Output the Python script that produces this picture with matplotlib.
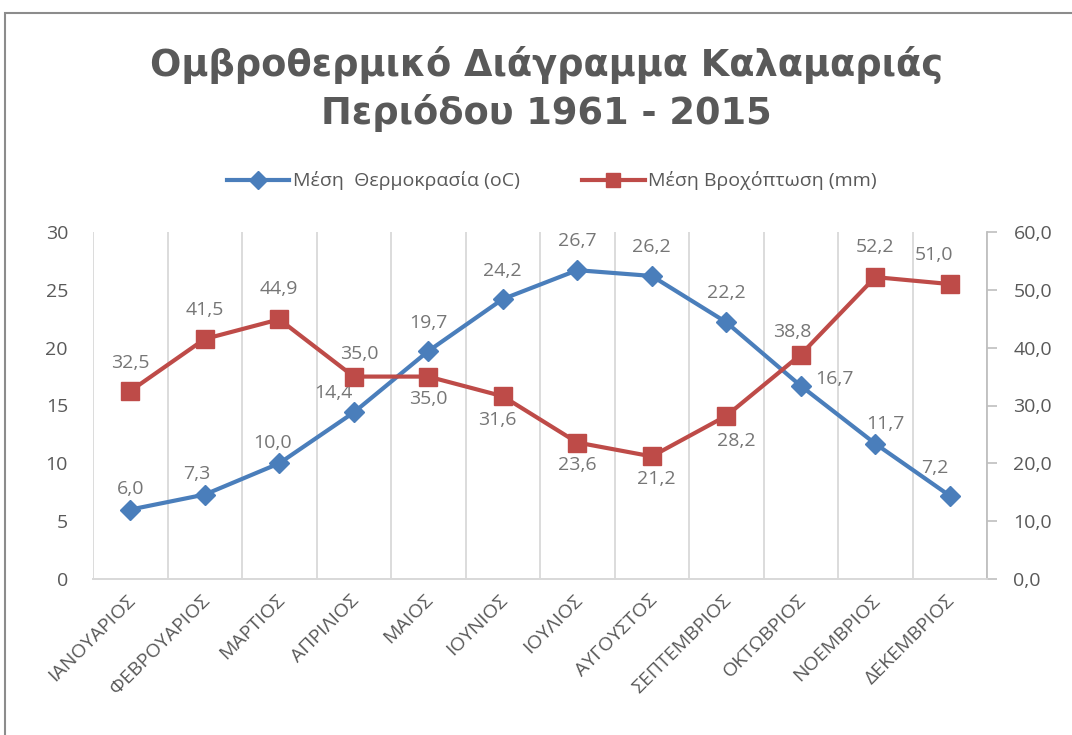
import matplotlib
matplotlib.use("Agg")
import matplotlib.pyplot as plt
import matplotlib.transforms as mtransforms
from matplotlib.patches import Rectangle

months = ["ΙΑΝΟΥΑΡΙΟΣ", "ΦΕΒΡΟΥΑΡΙΟΣ", "ΜΑΡΤΙΟΣ", "ΑΠΡΙΛΙΟΣ", "ΜΑΙΟΣ", "ΙΟΥΝΙΟΣ",
          "ΙΟΥΛΙΟΣ", "ΑΥΓΟΥΣΤΟΣ", "ΣΕΠΤΕΜΒΡΙΟΣ", "ΟΚΤΩΒΡΙΟΣ", "ΝΟΕΜΒΡΙΟΣ", "ΔΕΚΕΜΒΡΙΟΣ"]
temperature = [6.0, 7.3, 10.0, 14.4, 19.7, 24.2, 26.7, 26.2, 22.2, 16.7, 11.7, 7.2]
rainfall = [32.5, 41.5, 44.9, 35.0, 35.0, 31.6, 23.6, 21.2, 28.2, 38.8, 52.2, 51.0]
left_ticks = [0, 5, 10, 15, 20, 25, 30]
right_ticks = [0, 10, 20, 30, 40, 50, 60]
title = "Ομβροθερμικό Διάγραμμα Καλαμαριάς\nΠεριόδου 1961 - 2015"
temp_name = "Μέση  Θερμοκρασία (oC)"
rain_name = "Μέση Βροχόπτωση (mm)"

# label offsets (points) - style only
temp_off = [(0, 15), (-6, 15), (-5, 15), (-15, 14), (0, 20), (0, 20), (0, 21), (0, 21), (0, 21), (24, 5), (7, 14), (-11, 20)]
rain_off = [(0, 20), (0, 21), (0, 22), (4, 16), (0, -16), (-4, -17), (0, -16), (3, -16), (7, -18), (-6, 16), (0, 22), (-11, 21)]

FONT = "Open Sans"
plt.rcParams["font.family"] = [FONT, "DejaVu Sans"]
TXT = "#595959"
LBL = "#767676"
BLUE = "#4a7ebb"
RED = "#be4b48"

fig = plt.figure(figsize=(10.72, 7.35), dpi=100)
fig.patches.append(Rectangle((5 / 1072, -0.1), 1.2, (735 - 13) / 735 + 0.1, transform=fig.transFigure,
                             fill=False, edgecolor="#8c8c8c", linewidth=1.5))

ax = fig.add_axes([93 / 1072, (735 - 579) / 735, (987 - 93) / 1072, (579 - 232) / 735])
ax2 = ax.twinx()

x = list(range(len(months)))
l1, = ax.plot(x, temperature, color=BLUE, lw=3, marker="D", ms=10.5, zorder=3, label=temp_name)
l2, = ax2.plot(x, rainfall, color=RED, lw=3, marker="s", ms=12.5, zorder=3, label=rain_name)

for i, v in enumerate(temperature):
    ax.annotate(f"{v:.1f}".replace(".", ","), (i, v), xytext=temp_off[i], textcoords="offset points",
                ha="center", va="center", fontsize=14, color=LBL)
for i, v in enumerate(rainfall):
    ax2.annotate(f"{v:.1f}".replace(".", ","), (i, v), xytext=rain_off[i], textcoords="offset points",
                 ha="center", va="center", fontsize=14, color=LBL)

ax.set_xlim(-0.5, len(months) - 0.5)
ax.set_ylim(0, 30)
ax2.set_ylim(0, 60)
ax.set_yticks(left_ticks)
ax.set_yticklabels([str(t) for t in left_ticks])
ax2.set_yticks(right_ticks)
ax2.set_yticklabels([f"{t:.1f}".replace(".", ",") for t in right_ticks])

for b in [i - 0.5 for i in range(len(months) + 1)]:
    ax.axvline(b, color="#d9d9d9", lw=1.3, zorder=0)

ax.set_xticks(x)
ax.set_xticklabels([])
ax.tick_params(axis="x", length=0)
offset = mtransforms.ScaledTranslation(-4 / 100, -12 / 100, fig.dpi_scale_trans)
for i, m in enumerate(months):
    ax.text(i, 0, m, transform=ax.get_xaxis_transform() + offset, rotation=45, rotation_mode="anchor",
            ha="right", va="top", fontsize=14, color=TXT)

ax.tick_params(axis="y", length=0, labelsize=14, labelcolor=TXT, pad=18)
ax2.tick_params(axis="y", length=7, width=1.2, color="#bfbfbf", labelsize=14, labelcolor=TXT, pad=12)

for a in (ax, ax2):
    for s in ["top", "left", "right"]:
        a.spines[s].set_visible(False)
    a.spines["bottom"].set_color("#d9d9d9")
    a.spines["bottom"].set_linewidth(1.3)
ax2.spines["right"].set_visible(True)
ax2.spines["right"].set_color("#bfbfbf")
ax2.spines["right"].set_linewidth(1.3)

fig.text(0.51, (735 - 89) / 735, title, ha="center", va="center", fontsize=26.5, fontweight="bold",
         color=TXT, linespacing=1.33, family=["DejaVu Sans"])

fig.legend(handles=[l1, l2], loc="center", bbox_to_anchor=(0.515, (735 - 181) / 735), ncol=2, frameon=False,
           fontsize=14, labelcolor=TXT, handlelength=3.2, columnspacing=3.2, handletextpad=0.2,
           markerscale=0.85)

fig.savefig("out.png", dpi=100)
